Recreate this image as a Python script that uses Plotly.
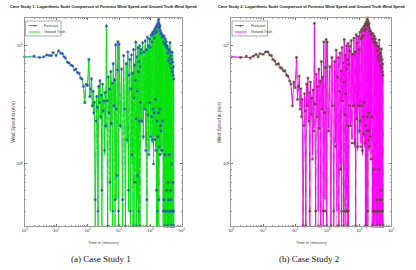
import math
import plotly.graph_objects as go

# ---------------- data ----------------
time_min = [
    1, 2, 3, 4, 5, 6, 7, 8, 10, 12, 14, 16, 18, 20, 23, 26, 30, 34, 38, 43, 48, 54, 60, 67, 74, 82, 90, 100,
    110, 118, 126, 134, 142, 150, 158, 166, 175, 185, 195, 205, 215, 225, 236, 248, 260, 273, 286, 300,
    315, 330, 346, 362, 380, 398, 416, 436, 456, 478, 500, 524, 548, 574, 600, 628, 656, 686, 716, 748,
    780, 815, 850, 888, 926, 966,
    1000, 1100, 1200, 1300, 1400, 1500, 1600, 1700, 1800, 1900, 2000, 2100, 2200, 2300, 2400, 2500, 2600,
    2700, 2800, 2900, 3000, 3100, 3200, 3300, 3400, 3500, 3600, 3700, 3800, 3900, 4000, 4100, 4200, 4300,
    4400, 4500, 4600, 4700, 4800, 4900,
    5000, 5300, 5600, 5900, 6200, 6500, 6800, 7100, 7400, 7700, 8000, 8300, 8600, 8900, 9200, 9500, 9800,
    10100, 10400, 10700, 11000, 11300, 11600, 11900, 12200, 12500, 12800, 13100, 13400, 13700, 14000,
    14300, 14600, 14900, 15200, 15500, 15800, 16100, 16400, 16700, 17000, 17300, 17600, 17900, 18200,
    18500, 18800, 19100, 19400, 19700, 20000, 20300, 20600, 20900, 21200,
    21800, 22400, 23000, 23600, 24200, 24800, 25400, 26000, 26600, 27200, 27800, 28400, 29000, 29600,
    30200, 30800, 31400, 32000, 32600, 33200,
    33800, 34400, 35000, 35600, 36200, 36800, 37400, 38000, 38600, 39200, 39800, 40400, 41000, 41600,
    42200, 42800, 43400, 44000, 44600, 45200, 45800, 46400, 47000, 47600, 48200, 48800, 49400, 50000,
    50600, 51200, 51800, 52400, 53000, 53600, 54200, 54800, 55400,
]

ground_truth = [
    8.0, 8.0, 8.0, 7.9, 8.2, 8.3, 8.1, 8.6, 8.3, 8.9, 8.7, 8.4, 8.1, 7.7, 7.3, 7.0, 6.9, 6.6, 6.3, 6.2,
    6.0, 5.7, 5.4, 5.1, 4.6, 3.2, 4.8, 4.5,
    7.8, 3.6, 4.4, 5.4, 3.0, 4.2, 2.6, 3.4, 0.3, 2.2, 3.8, 2.9, 0.3, 4.6, 3.2, 5.2, 2.4, 3.9, 0.3, 4.8,
    2.7, 3.5, 1.2, 4.1, 2.0, 15.0, 3.3, 0.3, 5.6, 2.6, 4.4, 0.4, 6.2, 2.1, 4.9, 0.3, 7.2, 3.0, 5.3, 0.3,
    10.5, 2.8, 0.5, 6.4, 11.0, 0.3,
    10.5, 2.0, 6.5, 0.3, 8.0, 3.0, 0.3, 7.2, 1.5, 9.0, 0.4, 5.5, 7.8, 0.3, 4.2, 8.5, 1.0, 6.0, 0.3, 9.5,
    3.5, 7.0, 0.3, 5.0, 11.0, 2.5, 0.3, 8.2, 4.0, 0.5, 9.8, 6.2, 0.3, 7.5, 2.2, 10.2, 0.3, 6.8, 3.2, 8.8,
    9.5, 2.2, 10.8, 1.6, 8.6, 3.0, 11.2, 1.4, 9.0, 0.3, 12.0, 2.5, 10.2, 1.3, 11.6, 3.2, 9.4, 1.8, 12.6,
    2.4, 11.0, 1.5, 13.2, 3.0, 12.0, 1.2, 13.6, 2.6, 11.8, 1.7, 14.2, 3.4, 13.0, 1.4, 14.8, 0.3, 13.4,
    2.2, 15.4, 0.3, 14.6, 1.8, 16.2, 2.6, 16.9, 0.3, 15.6, 1.5, 14.4, 2.8, 15.0, 1.3, 13.6, 2.0, 12.8,
    1.8, 13.0, 1.2, 12.0, 2.4, 12.4, 0.3, 11.0, 0.4, 12.2, 0.3, 10.5, 1.0, 11.6, 0.3, 10.2, 0.3, 11.0,
    0.5, 9.8,
    0.3, 10.2, 0.3, 8.8, 0.6, 9.6, 0.3, 7.6, 0.3, 9.4, 1.0, 8.0, 0.3, 10.8, 0.3, 7.2, 0.4, 9.0, 0.3, 8.4,
    0.3, 6.6, 0.8, 7.8, 0.3, 9.0, 0.3, 6.2, 0.3, 7.4, 0.5, 5.8, 0.3, 6.8, 0.3, 5.4, 0.3,
]

forecast_case1 = [
    8.0, 8.1, 7.9, 8.0, 8.3, 8.2, 8.2, 8.7, 8.2, 9.0, 8.6, 8.5, 8.0, 7.8, 7.2, 7.1, 6.8, 6.7, 6.2, 6.3,
    5.9, 5.8, 5.3, 5.2, 4.5, 3.3, 4.7, 4.6,
    7.6, 3.7, 4.3, 5.2, 3.1, 4.1, 2.7, 3.3, 0.5, 2.3, 3.7, 3.0, 0.4, 4.5, 3.3, 5.0, 2.5, 3.8, 0.6, 4.7,
    2.8, 3.4, 1.3, 4.0, 2.1, 14.5, 3.4, 0.3, 5.4, 2.7, 4.3, 0.7, 6.0, 2.2, 4.8, 0.4, 7.0, 3.1, 5.1, 0.5,
    10.1, 2.9, 0.8, 6.2, 10.7, 0.4,
    10.2, 2.1, 6.3, 0.5, 8.2, 2.9, 0.3, 7.0, 1.6, 8.8, 0.6, 5.6, 7.6, 0.4, 4.3, 8.3, 1.2, 5.8, 0.3, 9.2,
    3.6, 6.8, 0.7, 5.1, 10.6, 2.4, 0.3, 8.0, 4.1, 0.8, 9.5, 6.0, 0.4, 7.3, 2.3, 9.9, 0.3, 6.6, 3.3, 8.6,
    9.2, 2.3, 10.5, 1.7, 8.8, 2.9, 10.9, 1.3, 9.2, 0.5, 11.7, 2.6, 9.9, 1.2, 11.3, 3.3, 9.6, 1.7, 12.2,
    2.5, 10.7, 1.6, 12.8, 2.9, 12.3, 1.0, 13.2, 2.7, 11.5, 1.6, 13.8, 3.5, 12.7, 1.3, 14.4, 0.6, 13.1,
    2.3, 15.0, 0.4, 14.2, 1.7, 15.8, 2.7, 16.5, 0.5, 15.2, 1.4, 14.1, 2.9, 14.6, 1.2, 13.3, 2.1, 12.5,
    1.9, 12.6, 1.3, 11.7, 2.3, 12.1, 0.4, 10.7, 0.5, 11.9, 0.3, 10.3, 1.2, 11.3, 0.4, 9.9, 0.3, 10.7,
    0.6, 9.6,
    0.4, 9.9, 0.3, 8.6, 0.7, 9.3, 0.5, 7.4, 0.3, 9.1, 1.2, 7.8, 0.4, 10.5, 0.3, 7.0, 0.6, 8.8, 0.3, 8.2,
    0.5, 6.4, 1.0, 7.6, 0.3, 8.7, 0.4, 6.0, 0.3, 7.2, 0.7, 5.6, 0.3, 6.6, 0.4, 5.2, 0.3,
]

forecast_case2 = [
    8.0, 7.9, 8.1, 7.8, 8.1, 8.4, 8.0, 8.5, 8.4, 8.8, 8.8, 8.3, 8.2, 7.6, 7.4, 6.9, 7.0, 6.5, 6.4, 6.1,
    6.1, 5.6, 5.5, 5.0, 4.7, 3.1, 4.9, 4.4,
    7.9, 3.5, 4.5, 5.5, 2.9, 4.3, 2.5, 3.5, 0.3, 2.1, 3.9, 2.8, 0.3, 4.7, 3.1, 5.3, 2.3, 4.0, 0.4, 4.9,
    2.6, 3.6, 1.1, 4.2, 1.9, 15.3, 3.2, 0.4, 5.7, 2.5, 4.5, 0.3, 6.3, 2.0, 5.0, 0.3, 7.3, 2.9, 5.4, 0.4,
    10.7, 2.7, 0.4, 6.5, 11.2, 0.3,
    10.7, 1.9, 6.6, 0.3, 7.9, 3.1, 0.4, 7.3, 1.4, 9.1, 0.3, 5.4, 7.9, 0.3, 4.1, 8.6, 0.9, 6.1, 0.4, 9.6,
    3.4, 7.1, 0.3, 4.9, 11.2, 2.6, 0.4, 8.3, 3.9, 0.4, 9.9, 6.3, 0.3, 7.6, 2.1, 10.4, 0.4, 6.9, 3.1, 8.9,
    9.8, 2.1, 11.0, 1.5, 8.4, 3.1, 11.5, 1.5, 8.8, 0.3, 12.3, 2.4, 10.5, 1.4, 11.9, 3.1, 9.2, 1.9, 12.9,
    2.3, 11.3, 1.4, 13.5, 3.1, 11.7, 1.3, 13.9, 2.5, 12.1, 1.8, 14.5, 3.3, 13.3, 1.5, 15.1, 0.3, 13.7,
    2.1, 15.7, 0.3, 14.9, 1.9, 16.5, 2.5, 17.0, 0.4, 15.9, 1.6, 14.7, 2.7, 15.3, 1.4, 13.9, 1.9, 13.1,
    1.7, 13.3, 1.1, 12.3, 2.5, 12.7, 0.3, 11.3, 0.3, 12.5, 0.4, 10.7, 0.9, 11.9, 0.3, 10.5, 0.4, 11.3,
    0.4, 10.0,
    0.3, 10.5, 0.4, 9.0, 0.5, 9.9, 0.3, 7.8, 0.4, 9.7, 0.9, 8.2, 0.3, 11.1, 0.4, 7.4, 0.3, 9.3, 0.5, 8.6,
    0.3, 6.8, 0.6, 8.0, 0.4, 9.3, 0.3, 6.4, 0.5, 7.6, 0.3, 6.0, 0.4, 7.0, 0.3, 5.6, 0.3,
]

assert len(time_min) == len(ground_truth) == len(forecast_case1) == len(forecast_case2), (
    len(time_min), len(ground_truth), len(forecast_case1), len(forecast_case2))

x_tick_vals = [1, 10, 100, 1000, 10000, 100000]
x_tick_labels = ["10<sup>0</sup>", "10<sup>1</sup>", "10<sup>2</sup>", "10<sup>3</sup>",
                 "10<sup>4</sup>", "10<sup>5</sup>"]
y_tick_vals = [1, 10]
y_tick_labels = ["10<sup>0</sup>", "10<sup>1</sup>"]

panel_titles = [
    "Case Study 1: Logarithmic Scale Comparison of Forecast Wind Speed and Ground Truth Wind Speed",
    "Case Study 2: Logarithmic Scale Comparison of Forecast Wind Speed and Ground Truth Wind Speed",
]
captions = ["(a) Case Study 1", "(b) Case Study 2"]
series_names = ["Forecast", "Ground Truth"]
x_label = "Time in (minutes)"
y_label = "Wind Speed in (m/s)"

# ---------------- layout helpers ----------------
W, H = 416, 270
def fx(p):
    return p / W
def fy(p):
    return 1 - p / H

SANS = "Liberation Sans, Arial, sans-serif"
SERIF = "Liberation Serif, Times New Roman, serif"

panels = [
    dict(x0=22, x1=182, fc=forecast_case1, fcol="#2f4ec4", fdash="dashdot", tcol="#00e600"),
    dict(x0=232, x1=395, fc=forecast_case2, fcol="#5e4a2c", fdash="dash", tcol="#ff00ff"),
]
Y_TOP, Y_BOT = 18, 226

fig = go.Figure()
annotations = []
shapes = []

minor_x = [m * 10 ** d for d in range(0, 5) for m in range(2, 10)]
minor_y = [0.3, 0.4, 0.5, 0.6, 0.7, 0.8, 0.9, 2, 3, 4, 5, 6, 7, 8, 9]

for i, p in enumerate(panels):
    xa = "x" if i == 0 else "x2"
    ya = "y" if i == 0 else "y2"
    fig.add_trace(go.Scatter(x=time_min, y=p["fc"], mode="lines", xaxis=xa, yaxis=ya,
                             line=dict(color=p["fcol"], width=0.5, dash=p["fdash"]),
                             showlegend=False, hoverinfo="skip"))
    fig.add_trace(go.Scatter(x=time_min, y=ground_truth, mode="lines", xaxis=xa, yaxis=ya,
                             line=dict(color=p["tcol"], width=0.9),
                             showlegend=False, hoverinfo="skip"))
    fig.add_trace(go.Scatter(x=time_min, y=p["fc"], mode="markers", xaxis=xa, yaxis=ya,
                             marker=dict(symbol="asterisk-open", size=2.5, color=p["fcol"],
                                         line=dict(color=p["fcol"], width=0.8)),
                             cliponaxis=False, showlegend=False, hoverinfo="skip"))

    axis_common = dict(showgrid=False, zeroline=False, showline=True, linecolor="#9a9a9a",
                       linewidth=0.7, mirror="ticks", ticks="inside", ticklen=2.5,
                       tickcolor="#777", tickwidth=0.6,
                       tickfont=dict(family=SANS, size=4.2, color="#333"), type="log")
    xkey = "xaxis" if i == 0 else "xaxis2"
    ykey = "yaxis" if i == 0 else "yaxis2"
    fig.update_layout({
        xkey: dict(axis_common, domain=[fx(p["x0"]), fx(p["x1"])], anchor=ya,
                   range=[0, 5], tickmode="array", tickvals=x_tick_vals, ticktext=x_tick_labels,
                   minor=dict(tickmode="array", tickvals=minor_x, ticks="inside", ticklen=1.2,
                              tickcolor="#999", tickwidth=0.5)),
        ykey: dict(axis_common, domain=[fy(Y_BOT), fy(Y_TOP)], anchor=xa,
                   range=[math.log10(0.3), math.log10(17)], tickmode="array",
                   tickvals=y_tick_vals, ticktext=y_tick_labels,
                   minor=dict(tickmode="array", tickvals=minor_y, ticks="inside", ticklen=1.2,
                              tickcolor="#999", tickwidth=0.5)),
    })

    cx = (p["x0"] + p["x1"]) / 2
    # title
    annotations.append(dict(text="<b>" + panel_titles[i] + "</b>", x=fx(cx), y=fy(7),
                            xref="paper", yref="paper", showarrow=False,
                            font=dict(family=SANS, size=3.9, color="#111"),
                            xanchor="center", yanchor="middle"))
    # axis titles
    annotations.append(dict(text=x_label, x=fx(cx), y=fy(242), xref="paper", yref="paper",
                            showarrow=False, font=dict(family=SANS, size=4.0, color="#444"),
                            xanchor="center", yanchor="middle"))
    annotations.append(dict(text=y_label, x=fx(p["x0"] - 12), y=fy((Y_TOP + Y_BOT) / 2),
                            xref="paper", yref="paper", showarrow=False, textangle=-90,
                            font=dict(family=SANS, size=4.6, color="#444"),
                            xanchor="center", yanchor="middle"))
    # caption
    annotations.append(dict(text=captions[i], x=fx(cx - 2), y=fy(259), xref="paper", yref="paper",
                            showarrow=False, font=dict(family=SERIF, size=9, color="#111"),
                            xanchor="center", yanchor="middle"))
    # manual legend
    lx0 = p["x0"] + 1
    shapes.append(dict(type="rect", xref="paper", yref="paper",
                       x0=fx(lx0), x1=fx(lx0 + 36), y0=fy(36), y1=fy(21),
                       line=dict(color="#555", width=0.5), fillcolor="white"))
    shapes.append(dict(type="line", xref="paper", yref="paper",
                       x0=fx(lx0 + 3), x1=fx(lx0 + 15), y0=fy(25.5), y1=fy(25.5),
                       line=dict(color=p["fcol"], width=0.7, dash=p["fdash"])))
    shapes.append(dict(type="line", xref="paper", yref="paper",
                       x0=fx(lx0 + 3), x1=fx(lx0 + 15), y0=fy(32), y1=fy(32),
                       line=dict(color=p["tcol"], width=0.9)))
    annotations.append(dict(text="*", x=fx(lx0 + 9), y=fy(26.3), xref="paper", yref="paper",
                            showarrow=False, font=dict(family="DejaVu Sans", size=6, color=p["fcol"]),
                            xanchor="center", yanchor="middle"))
    for nm, yy in zip(series_names, [25.5, 32]):
        annotations.append(dict(text=nm, x=fx(lx0 + 17), y=fy(yy), xref="paper", yref="paper",
                                showarrow=False, font=dict(family=SANS, size=3.6, color="#333"),
                                xanchor="left", yanchor="middle"))

fig.update_layout(width=W, height=H, margin=dict(l=0, r=0, t=0, b=0),
                  paper_bgcolor="white", plot_bgcolor="white",
                  annotations=annotations, shapes=shapes, showlegend=False)

fig.write_html("out.html", config={"displayModeBar": False},
               post_script="document.body.style.margin='0';document.body.style.overflow='hidden';")
